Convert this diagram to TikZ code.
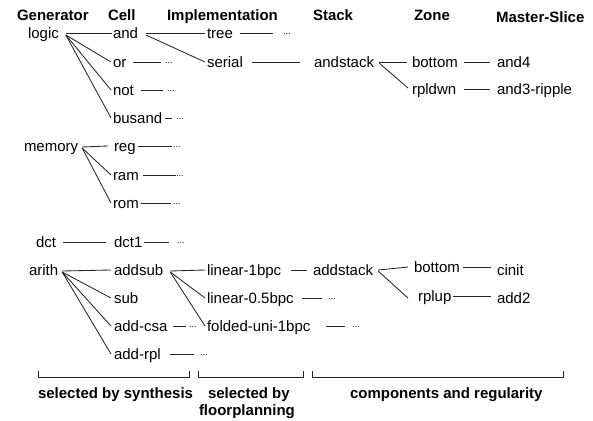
\documentclass[tikz,border=0pt]{standalone}
\usepackage{fontspec}
\setmainfont{Liberation Sans}
\usetikzlibrary{calc}
\begin{document}
\begin{tikzpicture}[x=1pt,y=-1pt,
  every node/.style={inner sep=0pt, outer sep=0pt},
  lbl/.style={anchor=base west, font=\fontsize{15}{18}\selectfont, text height=12pt, text depth=2pt},
  hdr/.style={anchor=base west, font=\fontsize{15}{18}\selectfont\bfseries},
  dotsn/.style={anchor=west, font=\fontsize{9}{9}\selectfont},
  ln/.style={line width=0.85pt, draw=black!85},
]
\useasboundingbox (0,0) rectangle (593,420);

% headers
\node[hdr] (hGen) at (17,21) {Generator};
\node[hdr] (hCell) at (108,21) {Cell};
\node[hdr] (hImpl) at (167,21) {Implementation};
\node[hdr] (hStack) at (313,21) {Stack};
\node[hdr] (hZone) at (414,21) {Zone};
\node[hdr] (hMS) at (496,23) {Master-Slice};

% logic block
\node[lbl] (logic) at (28,38) {logic};
\node[lbl] (and) at (113,38) {and};
\node[lbl] (or) at (113,67) {or};
\node[lbl] (not) at (113,95) {not};
\node[lbl] (busand) at (113,123) {busand};
\node[lbl] (tree) at (207,38) {tree};
\node[lbl] (serial) at (207,67) {serial};
\node[lbl] (andstack) at (314,67) {andstack};
\node[lbl] (bottomA) at (412,67) {bottom};
\node[lbl] (rpldwn) at (412,94) {rpldwn};
\node[lbl] (and4) at (497,67) {and4};
\node[lbl] (and3ripple) at (497,94) {and3-ripple};

\node[dotsn] (dTree) at (283,34.5) {...};
\node[dotsn] (dOr) at (165,63.5) {...};
\node[dotsn] (dNot) at (167,91.5) {...};
\node[dotsn] (dBus) at (176,119.5) {...};

% memory block
\node[lbl] (memory) at (24,151) {memory};
\node[lbl] (reg) at (114,151) {reg};
\node[lbl] (ram) at (113,180) {ram};
\node[lbl] (rom) at (113,208) {rom};
\node[dotsn] (dReg) at (173,147.5) {...};
\node[dotsn] (dRam) at (176,176.5) {...};
\node[dotsn] (dRom) at (173,204.5) {...};

% dct / arith block
\node[lbl] (dct) at (36,247) {dct};
\node[lbl] (dct1) at (114,247) {dct1};
\node[dotsn] (dDct1) at (177,243.5) {...};
\node[lbl] (arith) at (29,275) {arith};
\node[lbl] (addsub) at (114,275) {addsub};
\node[lbl] (sub) at (114,303) {sub};
\node[lbl] (addcsa) at (114,331) {add-csa};
\node[lbl] (addrpl) at (114,359) {add-rpl};
\node[dotsn] (dCsa) at (189,327.5) {...};
\node[dotsn] (dRpl) at (200,355.5) {...};
\node[lbl] (lin1) at (207,275) {linear-1bpc};
\node[lbl] (lin05) at (207,303) {linear-0.5bpc};
\node[lbl] (folded) at (207,331) {folded-uni-1bpc};
\node[dotsn] (dLin05) at (328,299.5) {...};
\node[dotsn] (dFold) at (352,327.5) {...};
\node[lbl] (addstack) at (313,275) {addstack};
\node[lbl] (bottomB) at (414,272) {bottom};
\node[lbl] (rplup) at (418,301) {rplup};
\node[lbl] (cinit) at (497,275) {cinit};
\node[lbl] (add2) at (497,303) {add2};

% connectors: logic
\draw[ln] ($(logic.east)+(7,0)$) -- ($(and.west)+(-1,0)$);
\draw[ln] ($(logic.east)+(7,2)$) -- ($(or.west)+(-2,0)$);
\draw[ln] ($(logic.east)+(7,2)$) -- ($(not.west)+(-2,0)$);
\draw[ln] ($(logic.east)+(7,2)$) -- ($(busand.west)+(-2,0)$);
\draw[ln] ($(or.east)+(7,0)$) -- ($(or.east -| dOr.west)+(-4,0)$);
\draw[ln] ($(not.east)+(7,0)$) -- ($(not.east -| dNot.west)+(-4,0)$);
\draw[ln] ($(busand.east)+(3,0)$) -- ($(busand.east -| dBus.west)+(-4,0)$);
\draw[ln] ($(and.east)+(8,0)$) -- ($(tree.west)+(-2,0)$);
\draw[ln] ($(and.east)+(8,2)$) -- ($(serial.west)+(-2,0)$);
\draw[ln] ($(tree.east)+(7,0)$) -- ($(tree.east -| dTree.west)+(-10,0)$);
\draw[ln] ($(serial.east)+(9,0)$) -- ($(andstack.west)+(-14,0)$);
\draw[ln] ($(andstack.east)+(5,0)$) -- ($(bottomA.west)+(-5,0)$);
\draw[ln] ($(andstack.east)+(5,1)$) -- ($(rpldwn.west)+(-4,-1)$);
\draw[ln] ($(bottomA.east)+(6,0)$) -- ($(and4.west)+(-7,0)$);
\draw[ln] ($(rpldwn.east)+(8,0)$) -- ($(and3ripple.west)+(-7,0)$);

% connectors: memory
\draw[ln] ($(memory.east)+(4,1)$) -- ($(reg.west)+(-6,0)$);
\draw[ln] ($(memory.east)+(4,2)$) -- ($(ram.west)+(-2,0)$);
\draw[ln] ($(memory.east)+(4,2)$) -- ($(rom.west)+(-2,0)$);
\draw[ln] ($(reg.east)+(2,0)$) -- ($(reg.east -| dReg.west)+(-1,0)$);
\draw[ln] ($(ram.east)+(4,0)$) -- ($(ram.east -| dRam.west)+(0,0)$);
\draw[ln] ($(rom.east)+(2,0)$) -- ($(rom.east -| dRom.west)+(-2,0)$);

% connectors: dct / arith
\draw[ln] ($(dct.east)+(7,0)$) -- ($(dct1.west)+(-8,0)$);
\draw[ln] ($(dct1.east)+(2,0)$) -- ($(dct1.east -| dDct1.west)+(-8,0)$);
\draw[ln] ($(arith.east)+(4,1)$) -- ($(addsub.west)+(-3,0)$);
\draw[ln] ($(arith.east)+(4,2)$) -- ($(sub.west)+(-3,0)$);
\draw[ln] ($(arith.east)+(4,2)$) -- ($(addcsa.west)+(-3,0)$);
\draw[ln] ($(arith.east)+(4,2)$) -- ($(addrpl.west)+(-3,0)$);
\draw[ln] ($(addcsa.east)+(6,0)$) -- ($(addcsa.east -| dCsa.west)+(-3,0)$);
\draw[ln] ($(addrpl.east)+(9,0)$) -- ($(addrpl.east -| dRpl.west)+(-6,0)$);
\draw[ln] ($(addsub.east)+(7,1)$) -- ($(lin1.west)+(-2,0)$);
\draw[ln] ($(addsub.east)+(7,2)$) -- ($(lin05.west)+(-2,0)$);
\draw[ln] ($(addsub.east)+(7,2)$) -- ($(folded.west)+(-2,0)$);
\draw[ln] ($(lin1.east)+(10,0)$) -- ($(addstack.west)+(-6,0)$);
\draw[ln] ($(lin05.east)+(8,0)$) -- ($(lin05.east -| dLin05.west)+(-6,0)$);
\draw[ln] ($(folded.east)+(16,0)$) -- ($(folded.east -| dFold.west)+(-7,0)$);
\draw[ln] ($(addstack.east)+(5,0)$) -- ($(bottomB.west)+(-6,0)$);
\draw[ln] ($(addstack.east)+(5,1)$) -- ($(rplup.west)+(-10,2)$);
\draw[ln] ($(bottomB.east)+(3,0)$) -- ($(bottomB.east -| cinit.west)+(-6,0)$);
\draw[ln] ($(rplup.east)+(2,0)$) -- ($(rplup.east -| add2.west)+(-6,0)$);

% brackets
\coordinate (b1a) at (38,371); \coordinate (b1b) at (189,371);
\coordinate (b2a) at (198,371); \coordinate (b2b) at (303,371);
\coordinate (b3a) at (312,371); \coordinate (b3b) at (563,371);
\draw[ln] (b1a) -- ++(0,6) -| (b1b);
\draw[ln] (b2a) -- ++(0,6) -| (b2b);
\draw[ln] (b3a) -- ++(0,6) -| (b3b);

\node[hdr] (lSyn) at (38,398) {selected by synthesis};
\node[hdr] (lSel) at (208,398) {selected by};
\node[hdr] (lFloor) at (199,415) {floorplanning};
\node[hdr] (lComp) at (350,398) {components and regularity};
\end{tikzpicture}
\end{document}
